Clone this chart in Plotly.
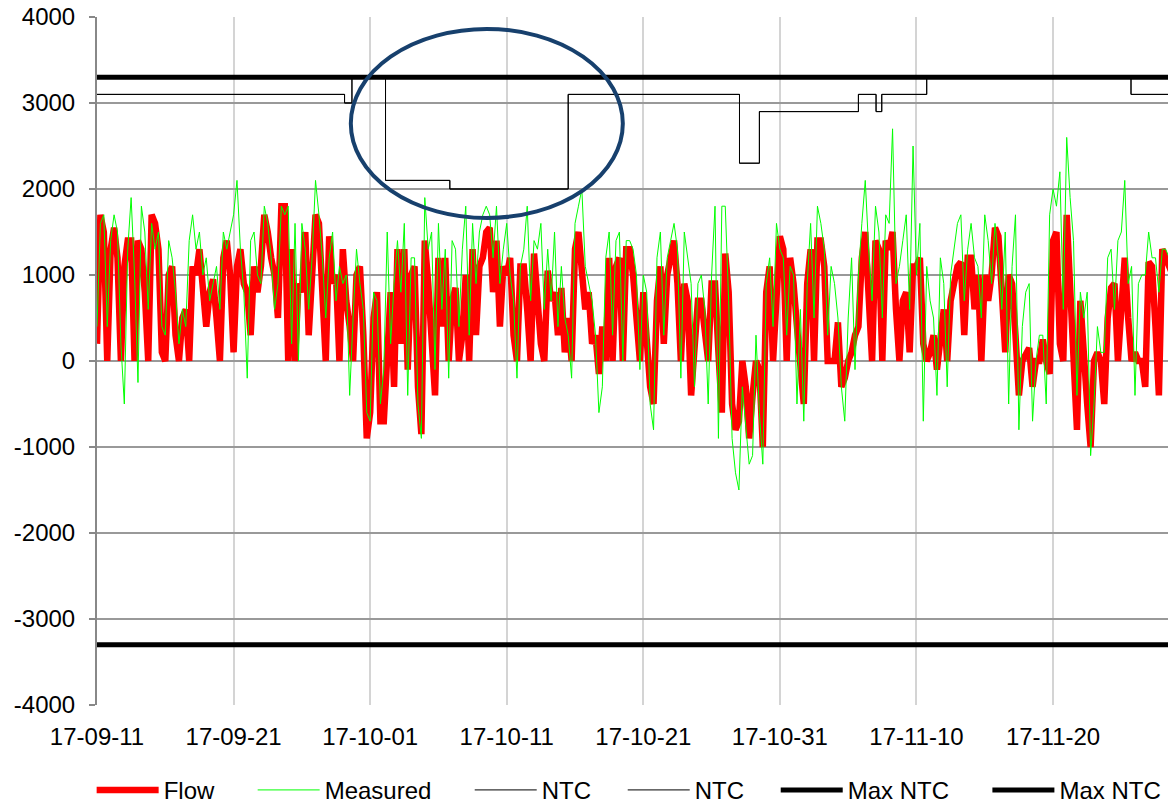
import pandas as pd
import plotly.graph_objects as go

# ---- data (6-hourly, starting 2017-09-11 00:00) ----
start = "2017-09-11 00:00"
flow = [
    200, 1700, 1500, 0,   1300, 1550, 1200, 0,   1100, 1400, 1400, 0,   1400, 1300, 800, 0,
    1700, 1600, 1300, 100,   0, 1000, 1100, 300,   0, 500, 600, 0,   1100, 1000, 1300, 900,
    400, 800, 950, 500,   0, 1200, 1400, 1000,   100, 1100, 1300, 900,   800, 300, 1100, 800,
    1100, 1700, 1500, 1200,   1000, 500, 1800, 1800,   0, 1300, 0, 900,   800, 1500, 300, 1000,
    1700, 1600, 900, 0,   1450, 900, 1000, 0,   1300, 700, 400, 0,   1000, 1100, 300, -900,
    -600, 500, 800, -700,   -700, 200, 800, -300,   1300, 200, 1300, -100,   1000, 1100, -300, -850,
    1400, 900, 200, -400,   1200, 400, 1200, 0,   700, 850, 0, 300,   1000, 0, 1300, 300,
    1100, 1200, 1500, 1550,   800, 1400, 400, 1100,   1000, 1200, 300, 0,   1100, 1100, 600, 0,
    1250, 800, 200, 0,   1050, 700, 800, 300,   850, 100, 500, 0,   1300, 1500, 1100, 600,
    800, 200, 300, -150,   400, 0, 1200, 0,   1100, 1200, 0, 1300,   1300, 1000, 500, 0,
    800, 300, -300, -500,   700, 1100, 200, 1000,   1200, 1400, 900, 0,   900, 700, -400, 200,
    700, 700, 300, 0,   900, 900, 100, -600,   1250, 800, -500, -800,   -700, 0, -300, -900,
    -400, 0, -100, -1000,   800, 1100, 0, 800,   1450, 1300, 0, 1200,   900, 400, 0, -500,
    900, 1300, 0, 1400,   1400, 1100, 0, 0,   0, 450, -300, -200,   0, 100, 300, 400,
    1200, 1500, 800, 0,   1400, 1300, 0, 1400,   1300, 1500, 600, 0,   700, 800, 100, 1100,
    1100, 1200, 200, 0,   100, 300, -100, 300,   600, 0, 700, 900,   1100, 1150, 300, 1200,
    1200, 600, 1000, 0,   1000, 700, 1000, 1550,   1450, 800, 100, 1000,   900, 300, -400, 0,
    100, 150, -300, 0,   0, 250, 0, -150,   1400, 1500, 200, 0,   1700, 900, 0, -800,
    700, 0, -500, -1000,   0, 100, 0, -500,   500, 850, 900, 0,   600, 1200, 500, 0,
    100, 0, 0, -300,   1150, 1100, 400, -400,   1300, 1200, 1100, 1000,
]
measured = [
    400, 1600, 1700, 400,   1400, 1700, 1500, 200,   -500, 1300, 1900, 1000,   -250, 1800, 1500, 600,
    1600, 1300, 1500, 400,   300, 1400, 1200, 800,   200, 600, 400, 1400,   1700, 1300, 1500, 1000,
    1200, 700, 900, 1100,   600, 1500, 1300, 1500,   1700, 2100, 1300, 800,   -200, 1400, 1500, 1000,
    900, 1800, 1600, 1200,   600, 900, 1800, 1700,   1800, 200, 1600, 0,   1600, 1300, 600, 1200,
    2100, 1700, 1200, 500,   1200, 1500, 700, 1100,   900, 1000, -400, 500,   1300, 900, 600, -600,
    -700, 800, 700, -500,   -100, 1500, 200, 900,   1400, 800, 1600, -400,   1200, 1200, -500, -900,
    1900, 1300, 1500, -100,   1600, 600, 1300, -200,   1400, 1300, 400, 1300,   1800, 300, 1600, 900,
    1500, 1700, 1800, 1700,   1200, 1800, 900, 1300,   1600, 1000, 700, -200,   1100, 1300, 1800, 700,
    1400, 1300, 1600, 600,   1300, 700, 1500, 400,   1100, 500, 300, -200,   1600, 1800, 2000, 1100,
    900, 700, 300, -600,   -300, 1200, 1500, 300,   1400, 1500, 0, 1400,   1400, 1300, 1000, -100,
    1000, 800, -500, -800,   1200, 1500, 300, 1200,   1400, 1600, 1300, -200,   1500, 1200, 900, -300,
    900, 1000, 600, -500,   1000, 1800, -900, 1800,   1800, 700, -900, -1300,   -1500, -300, -800, -1200,
    -1100, 300, -600, -1200,   900, 1200, 400, 1600,   1300, 1200, 300, 1100,   1000, -500, 600, -700,
    900, 1600, 500, 1800,   1600, 1300, 300, 1100,   900, 500, -300, -700,   500, 1200, -100, 1000,
    1600, 2100, 1300, 700,   1800, 1500, 500, 1700,   1600, 2700, 900, 1100,   1400, 1700, 600, 2500,
    1000, 1600, -700, 1100,   700, 500, -400, 1200,   900, -300, 1000, 1300,   1600, 1700, 700, 1300,
    1600, 1200, 1100, 500,   1700, 1400, 900, 1600,   1200, 600, 1500, -500,   1100, 1700, -800, 400,
    800, 900, -700, 0,   300, 300, -500, 1700,   2000, 1800, 2200, 600,   2600, 1900, 1400, -400,
    800, 500, 800, -1100,   -500, 400, 100, 100,   1200, 1300, 600, 1400,   1500, 2100, 900, 1100,
    -400, 900, 1000, 1000,   1500, 1200, 1200, 800,   1300, 1300, 1200, 1200,
]

ntc_dates = ["2017-09-11 00:00", "2017-09-29 03:00", "2017-09-29 16:00", "2017-10-02 03:00",
             "2017-10-06 20:00", "2017-10-15 12:00", "2017-10-28 01:00", "2017-10-29 12:00",
             "2017-11-05 18:00", "2017-11-07 01:00", "2017-11-07 11:00", "2017-11-10 18:00",
             "2017-11-25 17:00", "2017-11-29 00:00"]
ntc_values = [3100, 3000, 3300, 2100, 2000, 3100, 2300, 2900, 3100, 2900, 3100, 3300, 3100, 3100]
ntc2_values = ntc_values

max_dates = ["2017-09-11 00:00", "2017-11-29 00:00"]
max_ntc_pos = [3300, 3300]
max_ntc_neg = [-3300, -3300]

x_range = ["2017-09-11 00:00", "2017-11-28 10:00"]
y_ticks = [-4000, -3000, -2000, -1000, 0, 1000, 2000, 3000, 4000]
y_tick_labels = ["-4000", "-3000", "-2000", "-1000", "0", "1000", "2000", "3000", "4000"]
series_names = ["Flow", "Measured", "NTC", "NTC", "Max NTC", "Max NTC"]
legend_pad = [5, 5, 4, 4, 5, 0]   # trailing spacing after each legend label

times = pd.date_range(start, periods=len(flow), freq="6h")

FONT = "Arial, 'Liberation Sans', sans-serif"


def label(i):
    return series_names[i] + "\u00a0" * legend_pad[i]


fig = go.Figure()
fig.add_trace(go.Scatter(x=times, y=flow, name=label(0), mode="lines",
                         line=dict(color="#ff0000", width=6.5)))
fig.add_trace(go.Scatter(x=times, y=measured, name=label(1), mode="lines",
                         line=dict(color="#00ff00", width=1)))
fig.add_trace(go.Scatter(x=ntc_dates, y=ntc_values, name=label(2), mode="lines",
                         line=dict(color="#000000", width=1, shape="hv")))
fig.add_trace(go.Scatter(x=ntc_dates, y=ntc2_values, name=label(3), mode="lines",
                         line=dict(color="#000000", width=1, shape="hv")))
fig.add_trace(go.Scatter(x=max_dates, y=max_ntc_pos, name=label(4), mode="lines",
                         line=dict(color="#000000", width=5)))
fig.add_trace(go.Scatter(x=max_dates, y=max_ntc_neg, name=label(5), mode="lines",
                         line=dict(color="#000000", width=5)))

# highlight ellipse
fig.add_shape(type="circle", xref="x", yref="y",
              x0="2017-09-29 14:00", x1="2017-10-19 12:00", y0=1663, y1=3861,
              line=dict(color="#17406d", width=4), layer="above")

fig.update_layout(
    width=1168, height=804,
    margin=dict(l=97, r=0, t=17, b=99, autoexpand=False),
    paper_bgcolor="white", plot_bgcolor="white",
    font=dict(family=FONT, size=24, color="black"),
    showlegend=True,
    legend=dict(orientation="h", x=-0.005, xanchor="left", y=-0.124, yanchor="middle",
                font=dict(size=24), bgcolor="rgba(0,0,0,0)", itemwidth=62),
)
fig.update_xaxes(
    type="date", range=x_range, tick0="2017-09-11", dtick=10 * 86400000,
    tickformat="%y-%m-%d", showgrid=True, gridcolor="#d4d4d4", gridwidth=1.5,
    showline=False, zeroline=False, ticks="", ticklabelstandoff=15, automargin=False,
    tickfont=dict(size=24, family=FONT),
)
fig.update_yaxes(
    range=[-4000, 4000], tickmode="array", tickvals=y_ticks, ticktext=y_tick_labels,
    showgrid=True, gridcolor="#999999", gridwidth=2,
    zeroline=True, zerolinecolor="#999999", zerolinewidth=2,
    showline=True, linecolor="#888888", linewidth=2,
    ticks="outside", ticklen=6, tickcolor="#888888", tickwidth=2,
    ticklabelstandoff=9, automargin=False,
    tickfont=dict(size=24, family=FONT),
)

fig.write_html("out.html", config={"displayModeBar": False},
               post_script="document.body.style.margin='0';document.body.style.overflow='hidden';")
